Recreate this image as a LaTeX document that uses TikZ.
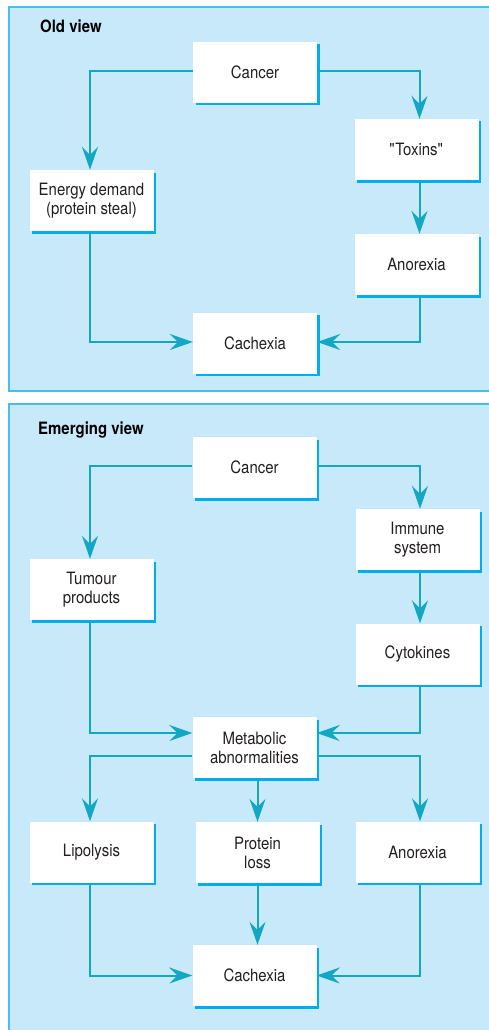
\documentclass[tikz,border=0pt]{standalone}
\usepackage{fontspec}
\setmainfont{TeX Gyre Heros}[FakeStretch=0.88]
\usetikzlibrary{arrows.meta,shadows}
\definecolor{panelfill}{HTML}{C7E9F9}
\definecolor{panelline}{HTML}{45C0EE}
\definecolor{shadowblue}{HTML}{00AEEF}
\definecolor{arrowteal}{HTML}{12A8C2}
\definecolor{textgrey}{HTML}{231F20}
\tikzset{
  panel/.style={fill=panelfill,draw=panelline,line width=1.5pt},
  boxnode/.style={fill=white,inner sep=0pt,minimum width=124pt,minimum height=61pt,
    align=center,text=textgrey,font=\fontsize{17}{19}\selectfont,
    drop shadow={shadow xshift=2.5pt,shadow yshift=-2.5pt,fill=shadowblue,opacity=1}},
  titlenode/.style={anchor=base west,inner sep=0pt,text=black,font=\fontsize{17}{19}\selectfont\bfseries},
  arr/.style={draw=arrowteal,line width=2pt,-{Stealth[length=23pt,width=16pt,inset=8pt,fill=arrowteal]}}
}
\begin{document}
\begin{tikzpicture}[x=1pt,y=-1pt]
\useasboundingbox (0,0) rectangle (488,1030);
% panels
\path[panel] (9,7) rectangle (495,391);
\path[panel] (9,404) rectangle (495,1040);
\node[titlenode] (t1) at (40,33) {Old view};
\node[titlenode] (t2) at (38,434) {Emerging view};
% old view boxes
\node[boxnode] (cancerA) at (255,72.5) {Cancer};
\node[boxnode] (toxins) at (416.5,149.5) {\textquotedbl Toxins\textquotedbl};
\node[boxnode] (energy) at (91.5,200.5) {Energy demand\\(protein steal)};
\node[boxnode] (anorexiaA) at (416.5,264.5) {Anorexia};
\node[boxnode] (cachexiaA) at (255,343) {Cachexia};
% emerging view boxes
\node[boxnode] (cancerB) at (254.5,467.5) {Cancer};
\node[boxnode] (immune) at (417.5,539.5) {Immune\\system};
\node[boxnode] (tumour) at (91.5,589.5) {Tumour\\products};
\node[boxnode] (cytokines) at (417.5,654) {Cytokines};
\node[boxnode] (metabolic) at (254.5,747.5) {Metabolic\\abnormalities};
\node[boxnode] (lipolysis) at (91.5,852) {Lipolysis};
\node[boxnode] (protein) at (257.5,852.5) {Protein\\loss};
\node[boxnode] (anorexiaB) at (417.5,852) {Anorexia};
\node[boxnode] (cachexiaB) at (254.5,975.5) {Cachexia};
% old view arrows
\draw[arr] ([yshift=1.5pt]cancerA.west) -| ([xshift=-1.5pt]energy.north);
\draw[arr] ([yshift=1.5pt]cancerA.east) -| ([xshift=3pt]toxins.north);
\draw[arr] ([xshift=3pt]toxins.south) -- ([xshift=3pt]anorexiaA.north);
\draw[arr] ([xshift=-1.5pt]energy.south) |- ([yshift=1pt]cachexiaA.west);
\draw[arr] ([xshift=3pt]anorexiaA.south) |- ([yshift=1pt]cachexiaA.east);
% emerging view arrows
\draw[arr] ([yshift=1.5pt]cancerB.west) -| ([xshift=-1.5pt]tumour.north);
\draw[arr] ([yshift=1.5pt]cancerB.east) -| ([xshift=2.5pt]immune.north);
\draw[arr] ([xshift=2.5pt]immune.south) -- ([xshift=2.5pt]cytokines.north);
\draw[arr] ([xshift=-1.5pt]tumour.south) |- ([yshift=14.5pt]metabolic.west);
\draw[arr] ([xshift=2.5pt]cytokines.south) |- ([yshift=14.5pt]metabolic.east);
\draw[arr] ([yshift=-8.5pt]metabolic.west) -| ([xshift=-1.5pt]lipolysis.north);
\draw[arr] ([yshift=-8.5pt]metabolic.east) -| ([xshift=2.5pt]anorexiaB.north);
\draw[arr] (metabolic.south -| protein.north) -- (protein.north);
\draw[arr] (protein.south) -- (protein.south |- cachexiaB.north);
\draw[arr] ([xshift=-1.5pt]lipolysis.south) |- (cachexiaB.west);
\draw[arr] ([xshift=2.5pt]anorexiaB.south) |- (cachexiaB.east);
\end{tikzpicture}
\end{document}
